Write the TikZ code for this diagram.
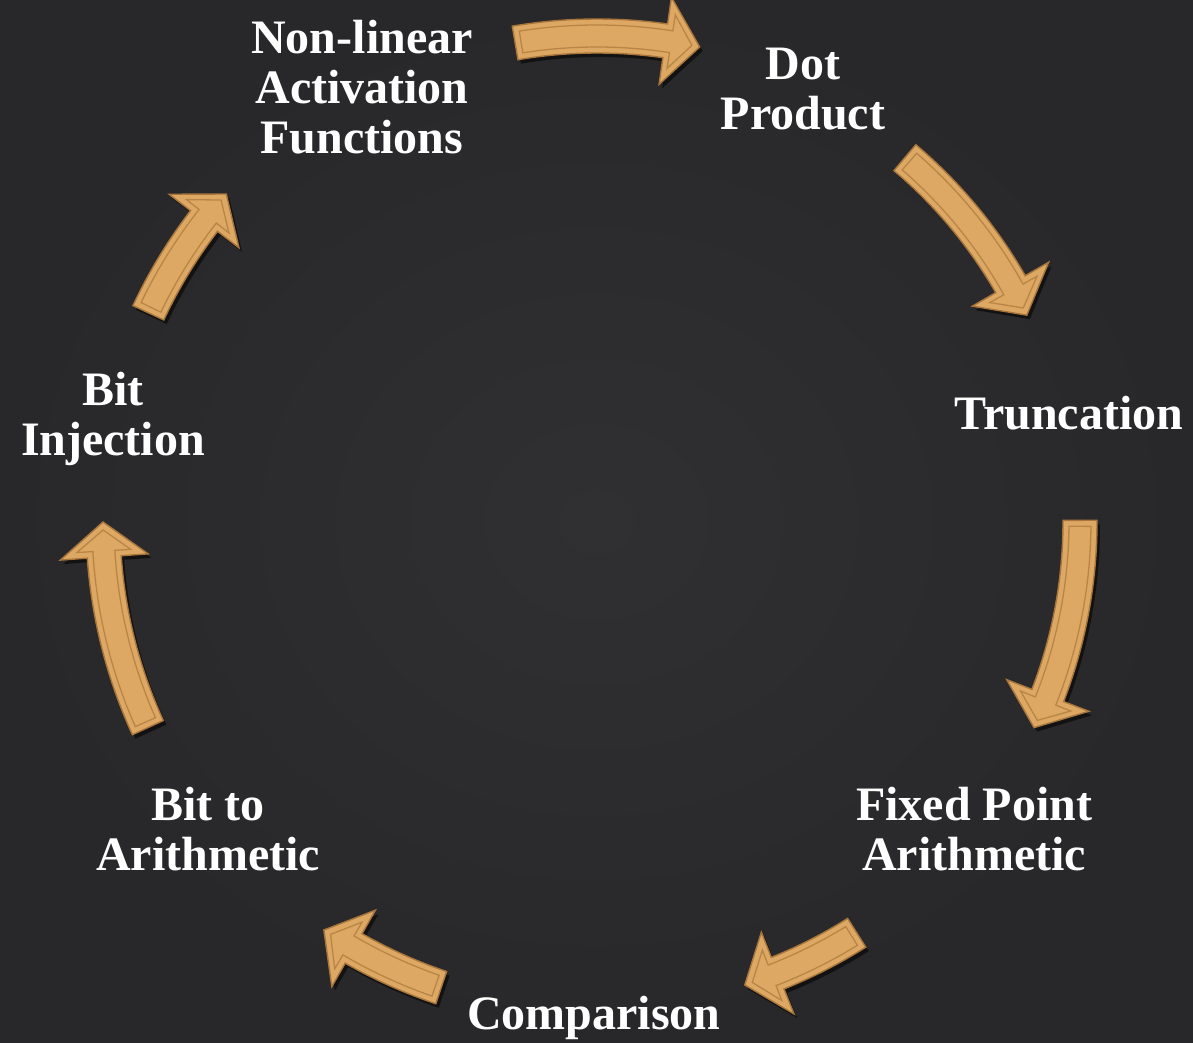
\documentclass[tikz,border=0pt]{standalone}
\usepackage{fontspec}
\setmainfont{Liberation Serif}
\usetikzlibrary{shadows}
\definecolor{bgmid}{HTML}{303032}
\definecolor{bgedge}{HTML}{28282A}
\definecolor{tanfill}{HTML}{DDA863}
\definecolor{tanedge}{HTML}{A8763C}
\definecolor{tanline}{HTML}{B88546}
\tikzset{
  lbl/.style={text=white, font=\bfseries\fontsize{48}{50}\selectfont, align=center, inner sep=0pt, anchor=base},
  arrowbody/.style={fill=tanfill, draw=tanedge, line width=1.4pt, line join=miter,
     drop shadow={shadow xshift=3pt, shadow yshift=-4pt, opacity=0.55, fill=black}},
  arrowbevel/.style={draw=tanline, line width=1.3pt, line join=miter},
}
% #1 start angle, #2 tip angle, #3 radius
\newcommand\cyclearrow[3]{%
  \pgfmathsetmacro\hb{#2+35/#3*57.2958}%
  \pgfmathsetmacro\ihb{#2+29/#3*57.2958}%
  \pgfmathsetmacro\itip{#2+8/#3*57.2958}%
  \pgfmathsetmacro\ist{#1-6/#3*57.2958}%
  \path[arrowbody] (#1:#3+17) arc[start angle=#1, end angle=\hb, radius=#3+17]
     -- (\hb:#3+44) -- (#2:#3) -- (\hb:#3-44) -- (\hb:#3-17)
     arc[start angle=\hb, end angle=#1, radius=#3-17] -- cycle;
  \draw[arrowbevel] (\ist:#3+11) arc[start angle=\ist, end angle=\ihb, radius=#3+11]
     -- (\ihb:#3+27) -- (\itip:#3) -- (\ihb:#3-27) -- (\ihb:#3-11)
     arc[start angle=\ihb, end angle=\ist, radius=#3-11] -- cycle;
}
\begin{document}
\begin{tikzpicture}[x=1pt,y=1pt]
  \useasboundingbox (0,0) rectangle (1193,1043);
  \shade[inner color=bgmid, outer color=bgedge] (0,0) rectangle (1193,1043);
  % labels: anchor=base is the baseline of the last line (image y -> 1043 - y)
  \node[lbl] (nonlin) at (362,1043-154) {Non-linear\\Activation\\Functions};
  \node[lbl] (dot) at (803,1043-130) {Dot\\Product};
  \node[lbl] (trunc) at (1069,1043-430) {Truncation};
  \node[lbl] (fixed) at (974,1043-871) {Fixed Point\\Arithmetic};
  \node[lbl] (comp) at (594,1043-1030) {Comparison};
  \node[lbl] (b2a) at (208,1043-871) {Bit to\\Arithmetic};
  \node[lbl] (binj) at (113,1043-456) {Bit\\Injection};
  % arrows around the cycle
  \begin{scope}[shift={(597,521)}]
    \cyclearrow{99.7}{77.8}{486}
    \cyclearrow{49.8}{25.7}{477}
    \cyclearrow{0.2}{-25.2}{483}
    \cyclearrow{-57.7}{-72.3}{486}
    \cyclearrow{-108.5}{-123.8}{491}
    \cyclearrow{204.6}{180}{494}
    \cyclearrow{155}{138.5}{495}
  \end{scope}
\end{tikzpicture}
\end{document}
